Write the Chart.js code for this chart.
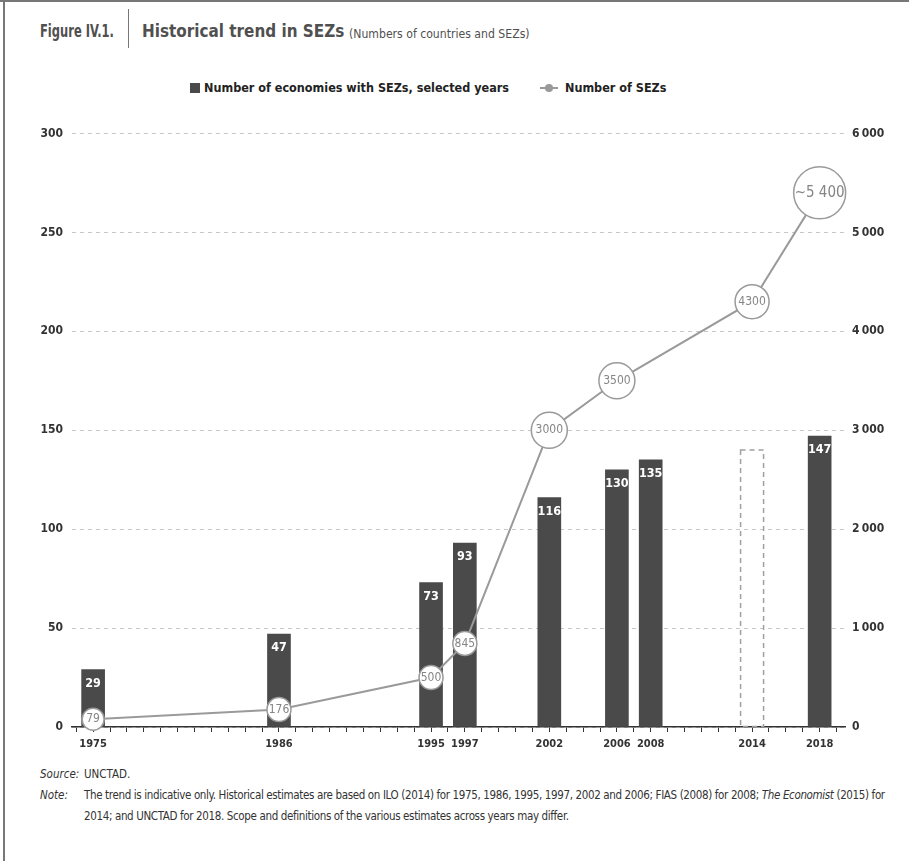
<!DOCTYPE html>
<html>
<head>
<meta charset="utf-8">
<script src="https://cdn.jsdelivr.net/npm/chart.js@4"></script>
<style>
  body { margin: 0; background: #fff; width: 909px; height: 861px; position: relative; overflow: hidden;
         font-family: 'Liberation Sans Narrow', 'DejaVu Sans Condensed', 'Roboto Condensed', sans-serif; }
  .frame-top { position: absolute; left: 0; top: 0; width: 909px; height: 2px; background: #777; }
  .frame-left { position: absolute; left: 3px; top: 0; width: 2px; height: 861px; background: #777; }
  .t { position: absolute; white-space: nowrap; color: #505050; transform-origin: left center; }
  .fig { left: 40px; top: 20px; font-weight: bold; font-size: 18px; transform: scaleX(0.71); }
  .sep { position: absolute; left: 128px; top: 9px; width: 1px; height: 39px; background: #777; }
  .main { left: 142px; top: 20px; font-weight: bold; font-size: 18px; transform: scaleX(0.94); }
  .sub { left: 349px; top: 26px; font-size: 12.5px; transform: scaleX(0.97); }
  .legend { position: absolute; top: 79px; left: 190px; font-weight: bold; font-size: 12.5px; color: #222; white-space: nowrap; }
  .legend span { display: inline-block; vertical-align: middle; }
  .legend .box { width: 10px; height: 10px; background: #4a4a4a; margin-right: 4px; }
  .legend .ln { position: relative; width: 18px; height: 10px; margin: 0 7px 0 31px; }
  .legend .ln::before { content: ''; position: absolute; left: 0; right: 0; top: 4px; height: 2px; background: #999; }
  .legend .ln::after { content: ''; position: absolute; left: 5px; top: 1px; width: 8px; height: 8px; border-radius: 50%; background: #999; }
  #chart { position: absolute; left: 0; top: 106px; }
  .notes { position: absolute; left: 40px; top: 764px; font-size: 11.5px; color: #333; line-height: 21px; white-space: nowrap; }
  .notes .k { font-style: italic; display: inline-block; width: 44px; }
  .notes .row { display: flex; }
  .notes .txt { letter-spacing: -0.36px; }
</style>
</head>
<body>
<div class="frame-top"></div>
<div class="frame-left"></div>
<div class="t fig">Figure IV.1.</div>
<div class="sep"></div>
<div class="t main">Historical trend in SEZs</div>
<div class="t sub">(Numbers of countries and SEZs)</div>
<div class="legend"><span class="box"></span><span>Number of economies with SEZs, selected years</span><span class="ln"></span><span>Number of SEZs</span></div>
<canvas id="chart" width="909" height="656"></canvas>
<div class="notes">
  <div class="row"><span class="k">Source:</span><span>UNCTAD.</span></div>
  <div class="row"><span class="k">Note:</span><span class="txt">The trend is indicative only. Historical estimates are based on ILO (2014) for 1975, 1986, 1995, 1997, 2002 and 2006; FIAS (2008) for 2008; <i>The Economist</i> (2015) for<br>2014; and UNCTAD for 2018. Scope and definitions of the various estimates across years may differ.</span></div>
</div>
<script>
// === Data ===
const barYears = [1975, 1986, 1995, 1997, 2002, 2006, 2008, 2018];
const barValues = [29, 47, 73, 93, 116, 130, 135, 147];
const estimateYears = [2014];
const estimateValues = [140];
const sezYears = [1975, 1986, 1995, 1997, 2002, 2006, 2014, 2018];
const sezValues = [79, 176, 500, 845, 3000, 3500, 4300, 5400];
const sezLabels = ['79', '176', '500', '845', '3000', '3500', '4300', '~5 400'];
const yearLabels = [1975, 1986, 1995, 1997, 2002, 2006, 2008, 2014, 2018];

const FONT = "'Liberation Sans Narrow', 'DejaVu Sans Condensed', 'Roboto Condensed', sans-serif";
const BAR_COLOR = '#4a4a4a';
const LINE_COLOR = '#9a9a9a';

// Draw bar numbers, dashed estimate bar and circle labels
const labelPlugin = {
  id: 'labels',
  afterDatasetsDraw(chart) {
    const ctx = chart.ctx;
    ctx.save();
    ctx.textAlign = 'center';
    ctx.textBaseline = 'middle';

    // bar values (white, near top)
    ctx.fillStyle = '#fff';
    ctx.font = 'bold 12.5px ' + FONT;
    chart.getDatasetMeta(0).data.forEach((bar, i) => {
      ctx.fillText(String(barValues[i]), bar.x, bar.y + 14);
    });

    // dashed outline for the estimate year
    ctx.strokeStyle = '#a0a0a0';
    ctx.lineWidth = 1.5;
    ctx.setLineDash([5, 4]);
    chart.getDatasetMeta(1).data.forEach(bar => {
      const w = bar.width;
      ctx.strokeRect(bar.x - w / 2, bar.y, w, bar.base - bar.y);
    });
    ctx.setLineDash([]);

    // values inside the circles
    ctx.fillStyle = '#858585';
    chart.getDatasetMeta(2).data.forEach((pt, i) => {
      const big = i === sezLabels.length - 1;
      ctx.font = (big ? '15px ' : '12px ') + FONT;
      ctx.fillText(sezLabels[i], pt.x, pt.y);
    });
    ctx.restore();
  }
};

new Chart(document.getElementById('chart'), {
  data: {
    datasets: [
      {
        type: 'bar',
        label: 'Number of economies with SEZs, selected years',
        data: barYears.map((y, i) => ({ x: y, y: barValues[i] })),
        backgroundColor: BAR_COLOR,
        barThickness: 23,
        grouped: false,
        yAxisID: 'y',
        order: 2
      },
      {
        type: 'bar',
        label: 'estimate',
        data: estimateYears.map((y, i) => ({ x: y, y: estimateValues[i] })),
        backgroundColor: 'rgba(0,0,0,0)',
        barThickness: 23,
        grouped: false,
        yAxisID: 'y',
        order: 3
      },
      {
        type: 'line',
        label: 'Number of SEZs',
        data: sezYears.map((y, i) => ({ x: y, y: sezValues[i] })),
        borderColor: LINE_COLOR,
        borderWidth: 2,
        pointBackgroundColor: '#fff',
        pointBorderColor: LINE_COLOR,
        pointBorderWidth: 1.5,
        pointRadius: [11, 12, 12, 12, 18, 18, 17, 26],
        pointHoverRadius: [11, 12, 12, 12, 18, 18, 17, 26],
        tension: 0,
        clip: false,
        yAxisID: 'y2',
        order: 1
      }
    ]
  },
  options: {
    responsive: false,
    animation: false,
    layout: { padding: { top: 13, left: 0, right: 0, bottom: 0 } },
    plugins: { legend: { display: false }, tooltip: { enabled: false } },
    scales: {
      x: {
        type: 'linear',
        offset: false,
        min: 1973.75,
        max: 2019.5,
        afterBuildTicks: s => {
          s.ticks = [];
          for (let y = 1974; y <= 2019; y++) s.ticks.push({ value: y });
        },
        afterFit: s => { s.height = 35; },
        ticks: {
          autoSkip: false,
          maxRotation: 0,
          padding: 6,
          color: '#333',
          font: { family: FONT, size: 11, weight: 'bold' },
          callback: v => yearLabels.includes(v) ? String(v) : ''
        },
        grid: { offset: false, drawOnChartArea: false, drawTicks: true, tickLength: 5, color: '#333', lineWidth: 1 },
        border: { display: true, color: '#333', width: 1.5 }
      },
      y: {
        position: 'left',
        min: 0,
        max: 300,
        afterFit: s => { s.width = 72; },
        ticks: {
          stepSize: 50,
          padding: 9,
          color: '#333',
          font: { family: FONT, size: 12, weight: 'bold' }
        },
        grid: { drawTicks: false, color: '#c8c8c8', lineWidth: 1 },
        border: { display: false, dash: [4, 4] }
      },
      y2: {
        position: 'right',
        min: 0,
        max: 6000,
        afterFit: s => { s.width = 64; },
        ticks: {
          stepSize: 1000,
          padding: 7,
          color: '#333',
          font: { family: FONT, size: 12, weight: 'bold' },
          callback: v => v >= 1000 ? Math.floor(v / 1000) + '\u202F' + String(v % 1000).padStart(3, '0') : String(v)
        },
        grid: { display: false, drawTicks: false },
        border: { display: false }
      }
    }
  },
  plugins: [labelPlugin]
});
</script>
</body>
</html>
